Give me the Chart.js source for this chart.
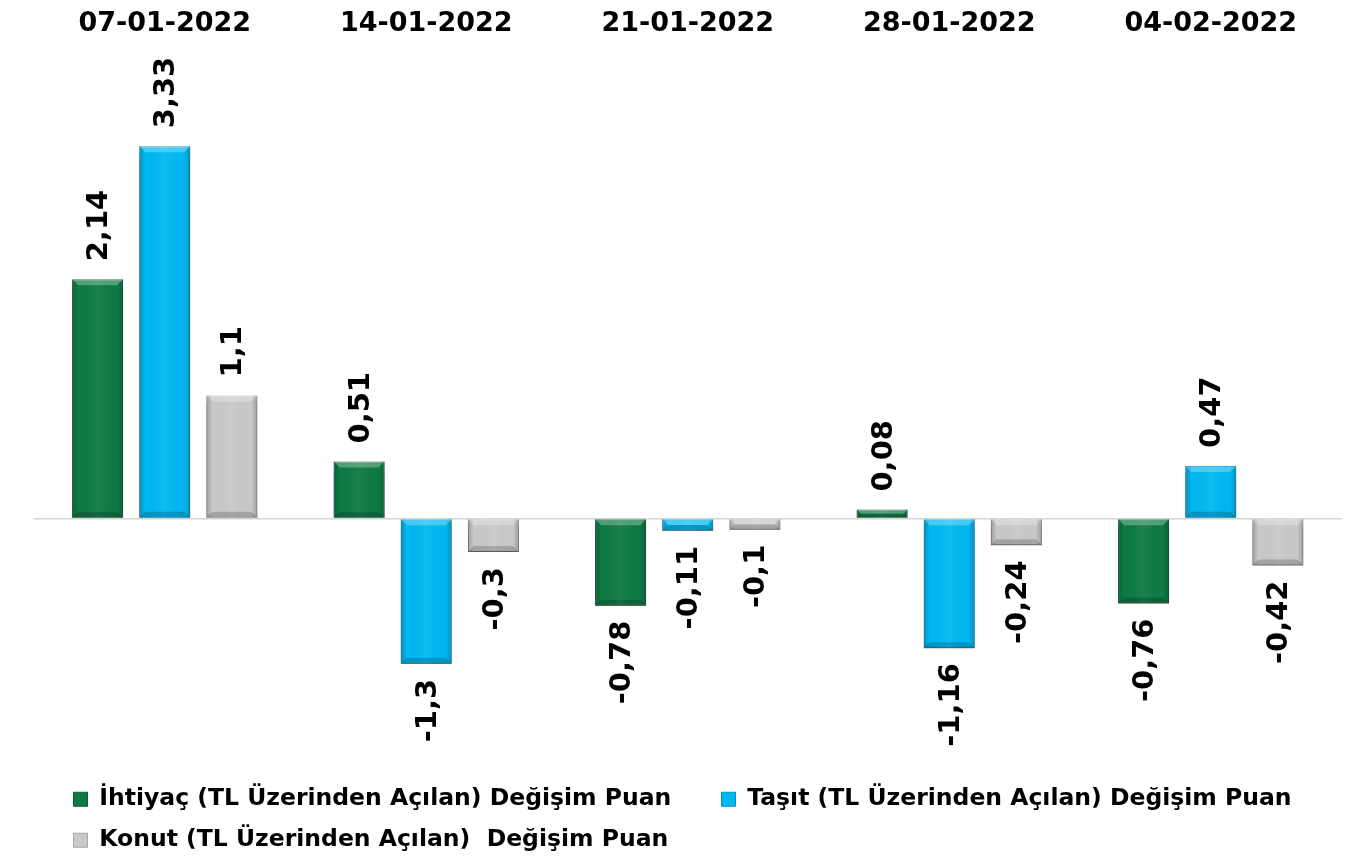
<!DOCTYPE html>
<html lang="tr">
<head>
<meta charset="utf-8">
<script src="https://cdn.jsdelivr.net/npm/chart.js@4.4.1/dist/chart.umd.min.js"></script>
<style>
html,body{margin:0;padding:0;background:#fff;}
#kutu{width:1368px;height:867px;position:relative;}
</style>
</head>
<body>
<div id="kutu"><canvas id="grafik"></canvas></div>
<script>
// ================= VERİLER =================
const tarihler = ['07-01-2022', '14-01-2022', '21-01-2022', '28-01-2022', '04-02-2022'];
const ihtiyac = [2.14, 0.51, -0.78, 0.08, -0.76];
const tasit = [3.33, -1.3, -0.11, -1.16, 0.47];
const konut = [1.1, -0.3, -0.1, -0.24, -0.42];
const seriAdlari = [
  'İhtiyaç (TL Üzerinden Açılan) Değişim Puan',
  'Taşıt (TL Üzerinden Açılan) Değişim Puan',
  'Konut (TL Üzerinden Açılan)  Değişim Puan'
];

const renkler = ['#0d7a44', '#00b8f1', '#c9c9c9'];
const kenarlar = ['#0a5a32', '#0092c2', '#a6a6a6'];
const yaziTipi = '"DejaVu Sans", Verdana, sans-serif';

// ================= GÖLGE =================
const golge = {
  id: 'golge',
  beforeDatasetsDraw(chart){
    let ctx = chart.ctx;
    ctx.save();
    ctx.shadowColor = 'rgba(0,0,0,0.4)';
    ctx.shadowBlur = 7;
    ctx.shadowOffsetY = 6;
  },
  afterDatasetsDraw(chart){
    chart.ctx.restore();
  }
};

// ================= 3B GÖRÜNÜM =================
const parlaklik = {
  id: 'parlaklik',
  afterDatasetsDraw(chart){
    let ctx = chart.ctx;
    chart.data.datasets.forEach((ds, di) => {
      let meta = chart.getDatasetMeta(di);
      meta.data.forEach(bar => {
        let p = bar.getProps(['x', 'y', 'base', 'width'], true);
        let sol = p.x - p.width / 2, sag = p.x + p.width / 2;
        let ust = Math.min(p.y, p.base), alt = Math.max(p.y, p.base);
        let h = alt - ust;
        if (h < 1) return;
        ctx.save();
        let g = ctx.createLinearGradient(sol, 0, sag, 0);
        g.addColorStop(0, 'rgba(0,0,0,0.22)');
        g.addColorStop(0.12, 'rgba(0,0,0,0)');
        g.addColorStop(0.5, 'rgba(255,255,255,0.06)');
        g.addColorStop(0.88, 'rgba(0,0,0,0)');
        g.addColorStop(1, 'rgba(0,0,0,0.22)');
        ctx.fillStyle = g;
        ctx.fillRect(sol, ust, p.width, h);
        // üst kenar
        let b = Math.min(6, h / 2);
        ctx.fillStyle = 'rgba(255,255,255,0.28)';
        ctx.beginPath();
        ctx.moveTo(sol, ust);
        ctx.lineTo(sag, ust);
        ctx.lineTo(sag - b, ust + b);
        ctx.lineTo(sol + b, ust + b);
        ctx.closePath();
        ctx.fill();
        // alt kenar
        ctx.fillStyle = 'rgba(0,0,0,0.18)';
        ctx.beginPath();
        ctx.moveTo(sol, alt);
        ctx.lineTo(sag, alt);
        ctx.lineTo(sag - b, alt - b);
        ctx.lineTo(sol + b, alt - b);
        ctx.closePath();
        ctx.fill();
        ctx.restore();
      });
    });
  }
};

// ================= DEĞER ETİKETLERİ =================
const etiketler = {
  id: 'etiketler',
  afterDatasetsDraw(chart){
    let ctx = chart.ctx;
    ctx.save();
    ctx.font = 'bold 29px ' + yaziTipi;
    ctx.fillStyle = '#000';
    ctx.textBaseline = 'middle';
    chart.data.datasets.forEach((ds, di) => {
      let meta = chart.getDatasetMeta(di);
      meta.data.forEach((bar, i) => {
        let v = ds.data[i];
        let p = bar.getProps(['x', 'y'], true);
        let metin = String(v).replace('.', ',');
        ctx.save();
        if (v >= 0) {
          ctx.translate(p.x + 2, p.y - 18);
          ctx.rotate(-Math.PI / 2);
          ctx.textAlign = 'left';
        } else {
          ctx.translate(p.x + 2, p.y + 15);
          ctx.rotate(-Math.PI / 2);
          ctx.textAlign = 'right';
        }
        ctx.fillText(metin, 0, 0);
        ctx.restore();
      });
    });
    ctx.restore();
  }
};

// lejantı biraz sağa kaydır
const lejantKaydir = {
  id: 'lejantKaydir',
  afterLayout(chart){
    if (chart.legend) {
      chart.legend.left += 22;
    }
  }
};

// ================= GRAFİK =================
let chart = new Chart(document.getElementById('grafik'), {
  type: 'bar',
  data: {
    labels: tarihler,
    datasets: [
      {label: seriAdlari[0], data: ihtiyac, backgroundColor: renkler[0], borderColor: kenarlar[0], borderWidth: 1},
      {label: seriAdlari[1], data: tasit, backgroundColor: renkler[1], borderColor: kenarlar[1], borderWidth: 1},
      {label: seriAdlari[2], data: konut, backgroundColor: renkler[2], borderColor: kenarlar[2], borderWidth: 1}
    ]
  },
  options: {
    responsive: true,
    maintainAspectRatio: false,
    animation: false,
    devicePixelRatio: 1,
    layout: {padding: {left: 34, right: 20, top: -23, bottom: 5}},
    datasets: {bar: {categoryPercentage: 0.77, barPercentage: 0.76}},
    scales: {
      x: {
        position: 'top',
        grid: {display: false, drawTicks: false},
        border: {display: false},
        ticks: {
          color: '#000',
          padding: 31,
          font: {family: yaziTipi, size: 27, weight: 'bold'}
        }
      },
      y: {
        min: -2.25,
        max: 4,
        ticks: {display: false},
        border: {display: false},
        grid: {
          drawTicks: false,
          lineWidth: 1.5,
          color: c => c.tick && c.tick.value === 0 ? '#d4d4d4' : 'rgba(0,0,0,0)'
        }
      },
      // sağda boş şerit (çizim alanını daraltmak için)
      sagBosluk: {
        type: 'linear',
        position: 'right',
        min: 0,
        max: 1,
        ticks: {display: false},
        border: {display: false},
        grid: {display: false, drawTicks: false},
        afterFit(s){ s.width = 6.5; }
      }
    },
    plugins: {
      legend: {
        position: 'bottom',
        align: 'start',
        labels: {
          color: '#000',
          boxWidth: 14,
          boxHeight: 14,
          padding: 17.5,
          font: {family: yaziTipi, size: 23.5, weight: 'bold'},
          generateLabels(chart){
            // ilk öğeden sonra boşluk bırak
            return Chart.defaults.plugins.legend.labels.generateLabels(chart)
              .map((l, i) => i === 0 ? Object.assign(l, {text: l.text + '    '}) : l);
          }
        }
      },
      tooltip: {enabled: false}
    }
  },
  plugins: [golge, parlaklik, etiketler, lejantKaydir]
});
</script>
</body>
</html>
